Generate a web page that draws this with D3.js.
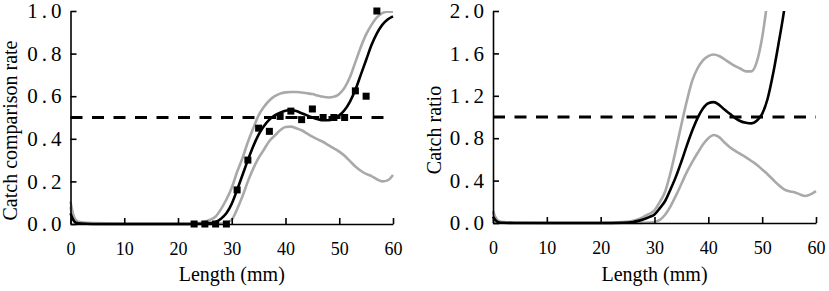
<!DOCTYPE html>
<html>
<head>
<meta charset="utf-8">
<script src="https://cdn.jsdelivr.net/npm/d3@7"></script>
<style>
  body { margin: 0; background: #fff; }
  svg { display: block; }
</style>
</head>
<body>
<div id="container"></div>
<script>
// length grid (mm) used by the fitted curves
let lengths = [0,0.5,1,2,4,10,20,24,26,27,28,29,30,31,32,33,34,35,36,37,38,39,40,41,42,43,44,45,46,47,48,49,50,51,52,53,54,55,56,57,58,59,60];

// left panel: catch comparison rate
let obsLength = [23,25,27,29,31,33,35,37,39,41,43,45,47,49,51,53,55,57];
let obsRate   = [0,0,0,0,0.16,0.30,0.45,0.435,0.505,0.53,0.49,0.54,0.50,0.50,0.50,0.625,0.60,1.0];

let rateFit   = [0.05,0.02,0.006,0.002,0,0,0,0.001,0.004,0.01,0.025,0.05,0.095,0.16,0.23,0.30,0.365,0.42,0.46,0.49,0.51,0.523,0.532,0.535,0.53,0.52,0.51,0.50,0.492,0.487,0.487,0.495,0.51,0.535,0.575,0.63,0.70,0.77,0.84,0.895,0.935,0.96,0.975];
let rateUpper = [0.105,0.045,0.018,0.008,0.004,0.002,0.002,0.005,0.02,0.035,0.07,0.115,0.17,0.245,0.31,0.385,0.45,0.51,0.55,0.58,0.60,0.612,0.618,0.62,0.62,0.617,0.614,0.61,0.603,0.597,0.594,0.597,0.61,0.64,0.69,0.76,0.83,0.89,0.935,0.97,0.99,0.997,0.997];
let rateLower = [0.08,0.03,0.01,0.004,0.001,0,0,0,0,0,0.002,0.006,0.02,0.07,0.13,0.20,0.26,0.31,0.35,0.39,0.415,0.44,0.455,0.457,0.45,0.44,0.425,0.41,0.397,0.385,0.37,0.355,0.34,0.32,0.295,0.27,0.25,0.235,0.225,0.21,0.20,0.205,0.23];

// right panel: catch ratio (null = off the chart)
let ratioFit   = [0.06,0.025,0.008,0.002,0,0,0,0.003,0.01,0.02,0.035,0.055,0.08,0.14,0.21,0.32,0.44,0.58,0.73,0.87,0.99,1.08,1.13,1.14,1.115,1.07,1.03,0.99,0.96,0.945,0.94,0.965,1.03,1.17,1.40,1.68,1.98,2.35,null,null,null,null,null];
let ratioUpper = [0.115,0.05,0.02,0.008,0.004,0.002,0.002,0.008,0.02,0.035,0.06,0.085,0.12,0.2,0.3,0.48,0.70,0.93,1.15,1.34,1.46,1.535,1.575,1.59,1.575,1.545,1.51,1.48,1.455,1.43,1.43,1.52,1.75,2.1,2.45,null,null,null,null,null,null,null,null];
let ratioLower = [0.1,0.04,0.015,0.005,0.002,0,0,0,0,0,0.002,0.004,0.01,0.03,0.08,0.16,0.26,0.37,0.48,0.575,0.66,0.74,0.80,0.83,0.81,0.76,0.715,0.68,0.65,0.62,0.585,0.55,0.505,0.46,0.41,0.36,0.32,0.30,0.29,0.27,0.255,0.27,0.30];

let xTicks = [0,10,20,30,40,50,60];
let rateTicks = [0,0.2,0.4,0.6,0.8,1.0];
let ratioTicks = [0,0.4,0.8,1.2,1.6,2.0];

let w = 829;
let h = 291;
let grey = "#a9a9a9";
let serif = "'Liberation Serif', 'Times New Roman', serif";

let viz = d3.select("#container")
  .append("svg")
    .attr("width", w)
    .attr("height", h)
    .style("background-color", "white")
;

function drawPanel(opt){
    let xScale = d3.scaleLinear().domain([0,60]).range([opt.left, opt.right]);
    let yScale = d3.scaleLinear().domain([0,opt.ymax]).range([opt.bottom, opt.top]);

    let clipId = "clip" + opt.id;
    viz.append("clipPath").attr("id", clipId)
      .append("rect")
        .attr("x", opt.left - 2)
        .attr("y", opt.top)
        .attr("width", opt.right - opt.left + 6)
        .attr("height", opt.bottom - opt.top + 4);

    let plot = viz.append("g").attr("clip-path", "url(#" + clipId + ")");

    let line = d3.line()
        .defined(function(d){ return d[1] != null; })
        .x(function(d){ return xScale(d[0]); })
        .y(function(d){ return yScale(d[1]); })
        .curve(d3.curveMonotoneX);

    function pairs(vals){
        return lengths.map(function(l,i){ return [l, vals[i]]; });
    }

    // reference line
    plot.append("line")
        .attr("x1", xScale(0)).attr("x2", xScale(60))
        .attr("y1", yScale(opt.ref)).attr("y2", yScale(opt.ref))
        .attr("stroke", "black")
        .attr("stroke-width", 3)
        .attr("stroke-dasharray", "12,9.5");

    [opt.upper, opt.lower].forEach(function(vals){
        plot.append("path")
            .attr("d", line(pairs(vals)))
            .attr("fill", "none")
            .attr("stroke", grey)
            .attr("stroke-width", 2.6);
    });

    plot.append("path")
        .attr("d", line(pairs(opt.fit)))
        .attr("fill", "none")
        .attr("stroke", "black")
        .attr("stroke-width", 2.6);

    if (opt.obsX) {
        viz.append("g").selectAll("rect").data(opt.obsX).enter()
          .append("rect")
            .attr("x", function(d){ return xScale(d) - 3.5; })
            .attr("y", function(d,i){ return yScale(opt.obsY[i]) - 3.5; })
            .attr("width", 7)
            .attr("height", 7)
            .attr("fill", "black");
    }

    let xAxis = d3.axisBottom(xScale)
        .tickValues(xTicks)
        .tickSizeInner(-6)
        .tickSizeOuter(0)
        .tickPadding(18)
        .tickFormat(d3.format("d"));

    let gx = viz.append("g")
        .attr("transform", "translate(0," + opt.bottom + ")")
        .call(xAxis);
    gx.selectAll("text")
        .style("font-family", serif)
        .style("font-size", "18px")
        .attr("fill", "black");

    let yAxis = d3.axisLeft(yScale)
        .tickValues(opt.yticks)
        .tickSizeInner(-6)
        .tickSizeOuter(0)
        .tickPadding(5)
        .tickFormat(d3.format(".1f"));

    let gy = viz.append("g")
        .attr("transform", "translate(" + opt.left + ",0)")
        .call(yAxis);
    gy.selectAll("text")
        .style("font-family", serif)
        .style("font-size", "21px")
        .style("letter-spacing", "4px")
        .attr("fill", "black");

    [gx, gy].forEach(function(g){
        g.select(".domain").attr("stroke-width", 1.6);
        g.selectAll(".tick line").attr("stroke-width", 1.6);
    });

    viz.append("text")
        .text("Length (mm)")
        .attr("x", (opt.left + opt.right) / 2)
        .attr("y", 281)
        .attr("text-anchor", "middle")
        .style("font-family", serif)
        .style("font-size", "20px");

    viz.append("text")
        .text(opt.ylabel)
        .attr("text-anchor", "middle")
        .attr("transform", "translate(" + opt.ytitleX + "," + ((opt.top + opt.bottom) / 2 + 13) + ") rotate(-90)")
        .style("font-family", serif)
        .style("font-size", "20px");
}

drawPanel({
    id: "a", left: 70.5, right: 393, top: 11, bottom: 224, ymax: 1.0,
    yticks: rateTicks, ref: 0.5,
    fit: rateFit, upper: rateUpper, lower: rateLower,
    obsX: obsLength, obsY: obsRate,
    ylabel: "Catch comparison rate", ytitleX: 17
});

drawPanel({
    id: "b", left: 493, right: 816, top: 11, bottom: 223, ymax: 2.0,
    yticks: ratioTicks, ref: 1.0,
    fit: ratioFit, upper: ratioUpper, lower: ratioLower,
    ylabel: "Catch ratio", ytitleX: 441
});
</script>
</body>
</html>
